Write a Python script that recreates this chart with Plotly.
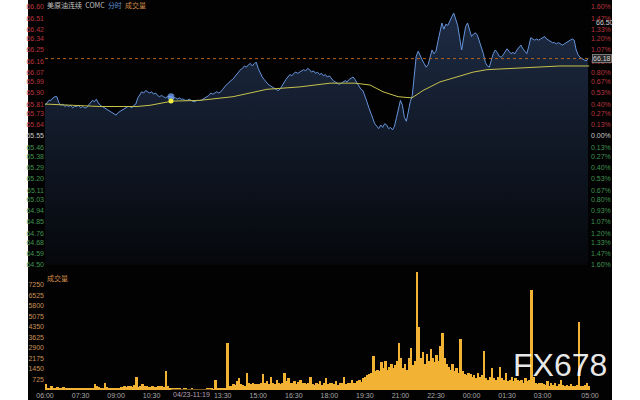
import plotly.graph_objects as go

# ---------------- data ----------------
# price every 5 minutes starting 06:00 (minute 0) to 04:55 next day
price = [
    65.80, 65.82, 65.84, 65.84, 65.86, 65.87, 65.87, 65.82, 65.80, 65.81, 65.79, 65.80,
    65.79, 65.80, 65.78, 65.79, 65.79, 65.80, 65.78, 65.79, 65.78, 65.78, 65.80, 65.82,
    65.84, 65.83, 65.85, 65.82, 65.80, 65.79, 65.78, 65.77, 65.76, 65.75, 65.74, 65.73,
    65.72, 65.74, 65.75, 65.76, 65.77, 65.78, 65.79, 65.79, 65.78, 65.80, 65.81, 65.86,
    65.89, 65.91, 65.90, 65.92, 65.91, 65.90, 65.91, 65.89, 65.90, 65.88, 65.87, 65.88,
    65.87, 65.86, 65.87, 65.87, 65.87, 65.86, 65.86, 65.85, 65.86, 65.85, 65.85, 65.84,
    65.84, 65.85, 65.84, 65.83, 65.83, 65.84, 65.84, 65.84, 65.85, 65.86, 65.87, 65.88,
    65.90, 65.89, 65.90, 65.91, 65.90, 65.91, 65.93, 65.95, 65.97, 65.98, 66.00, 66.01,
    66.03, 66.05, 66.07, 66.09, 66.10, 66.12, 66.11, 66.13, 66.14, 66.12, 66.14, 66.15,
    66.10, 66.06, 66.03, 66.01, 65.99, 65.97, 65.96, 65.95, 65.94, 65.93, 65.92, 65.93,
    65.96, 65.99, 66.01, 66.03, 66.05, 66.04, 66.06, 66.07, 66.06, 66.07, 66.08, 66.09,
    66.08, 66.10, 66.09, 66.07, 66.08, 66.06, 66.07, 66.05, 66.06, 66.04, 66.05, 66.03,
    66.04, 66.02, 66.00, 65.99, 65.98, 65.97, 65.98, 65.99, 66.00, 65.99, 66.01, 66.02,
    66.03, 66.01, 65.98, 65.95, 65.93, 65.92, 65.88, 65.83, 65.78, 65.73, 65.68, 65.65,
    65.63, 65.61, 65.64, 65.62, 65.65, 65.64, 65.61, 65.62, 65.60, 65.63, 65.70, 65.78,
    65.84, 65.80, 65.70, 65.67, 65.76, 65.83, 65.88, 66.05, 66.20, 66.24, 66.20, 66.17,
    66.14, 66.11, 66.13, 66.20, 66.25, 66.22, 66.24, 66.32, 66.40, 66.47, 66.42, 66.46,
    66.45, 66.49, 66.52, 66.55, 66.50, 66.45, 66.35, 66.25, 66.35, 66.44, 66.47, 66.42,
    66.36, 66.38, 66.39, 66.37, 66.32, 66.29, 66.22, 66.15, 66.12, 66.11, 66.16, 66.22,
    66.25, 66.23, 66.20, 66.19, 66.21, 66.24, 66.26, 66.24, 66.22, 66.23, 66.22, 66.25,
    66.27, 66.29, 66.26, 66.24, 66.22, 66.28, 66.35, 66.34, 66.33, 66.34, 66.33, 66.34,
    66.35, 66.36, 66.34, 66.33, 66.32, 66.31, 66.31, 66.30, 66.31, 66.30, 66.29, 66.30,
    66.31, 66.32, 66.33, 66.34, 66.33, 66.25, 66.21, 66.19, 66.18, 66.17, 66.16, 66.18,
]
price_minutes = [i * 5 for i in range(len(price))]

avg_minutes = [0, 63, 139, 233, 266, 322, 392, 476, 562, 646, 722, 785, 823, 856,
               894, 929, 957, 1000, 1043, 1084, 1119, 1177, 1228, 1304, 1378]
avg_values = [65.81, 65.80, 65.79, 65.79, 65.80, 65.834, 65.84, 65.87, 65.93, 65.95,
              65.98, 65.98, 65.965, 65.91, 65.87, 65.86, 65.92, 65.99, 66.03, 66.07,
              66.09, 66.10, 66.11, 66.12, 66.12]

# volume per 5-minute bar
volume = [
    420, 150, 120, 260, 100, 90, 180, 110, 90, 230, 80, 100,
    120, 90, 150, 80, 100, 70, 130, 90, 80, 110, 140, 90,
    100, 380, 260, 200, 120, 160, 450, 180, 130, 100, 150, 120,
    140, 120, 200, 180, 250, 220, 300, 260, 180, 320, 860, 240,
    300, 420, 280, 250, 200, 230, 260, 180, 220, 250, 300, 260,
    230, 1340, 280, 150, 120, 100, 80, 90, 70, 60, 80, 70,
    60, 50, 70, 40, 60, 50, 40, 50, 60, 50, 90, 70,
    80, 60, 700, 120, 100, 90, 150, 80, 3260, 300, 250, 400,
    350, 600, 800, 400, 350, 300, 1150, 450, 380, 500, 420, 380,
    420, 500, 1100, 450, 600, 400, 900, 500, 380, 700, 450, 400,
    500, 1200, 650, 800, 500, 450, 600, 400, 550, 700, 450, 500,
    400, 450, 900, 400, 350, 500, 400, 600, 350, 450, 800, 400,
    450, 500, 400, 600, 350, 450, 500, 900, 400, 500, 450, 700,
    500, 450, 600, 700, 550, 800, 900, 1000, 1100, 1200, 2370, 1300,
    1400, 1300, 1900, 1500, 2000, 1400, 1600, 1800, 1500, 1700, 2000, 3200,
    2200, 1500, 1800, 1400, 2200, 2900, 1700, 2000, 8100, 4300, 2200, 2600,
    1800, 2500, 2000, 2800, 2200, 1900, 2400, 2000, 3000, 3900, 2200, 1800,
    1600, 1400, 1800, 1300, 1500, 1200, 3500, 1300, 1100, 1000, 1200, 1100,
    900, 1000, 800, 1200, 900, 1000, 2700, 800, 700, 900, 1500, 800,
    700, 900, 1600, 800, 700, 1200, 600, 700, 900, 600, 800, 700,
    600, 700, 500, 800, 600, 700, 6840, 900, 500, 400, 500, 450,
    400, 350, 600, 300, 450, 350, 500, 300, 400, 700, 350, 300,
    350, 300, 400, 250, 300, 350, 4640, 300, 250, 350, 500, 300,
]
volume_minutes = [i * 5 + 2.5 for i in range(len(volume))]

price_ticks = ["66.60", "66.51", "66.42", "66.34", "66.25", "66.16", "66.07", "65.99",
               "65.90", "65.81", "65.73", "65.64", "65.55", "65.46", "65.38", "65.29",
               "65.20", "65.11", "65.03", "64.94", "64.85", "64.76", "64.68", "64.59", "64.50"]
pct_ticks = ["1.60%", "1.47%", "1.33%", "1.20%", "1.07%", "0.93%", "0.80%", "0.67%",
             "0.53%", "0.40%", "0.27%", "0.13%", "0.00%", "0.13%", "0.27%", "0.40%",
             "0.53%", "0.67%", "0.80%", "0.93%", "1.07%", "1.20%", "1.33%", "1.47%", "1.60%"]
vol_ticks = [725, 1450, 2175, 2900, 3625, 4350, 5075, 5800, 6525, 7250]
time_tick_minutes = [0, 90, 180, 270, 450, 540, 630, 720, 810, 900, 990, 1080, 1170, 1260, 1380]
time_tick_labels = ["06:00", "07:30", "09:00", "10:30", "13:30", "15:00", "16:30", "18:00",
                    "19:30", "21:00", "22:30", "00:00", "01:30", "03:00", "05:00"]

prev_close = 65.55
last_price = 66.18
cross_minute = 319
cross_price = 65.87
cross_avg = 65.834

# ---------------- styling ----------------
BG = "#020202"
RED = "#b8343f"
GREEN = "#3f9350"
ZERO = "#c8c8c8"
VOLC = "#c99055"
TIMEC = "#a8a8a8"
FONT = "Liberation Sans, Noto Sans CJK SC, sans-serif"


def colored(labels, vals):
    out = []
    for lab, v in zip(labels, vals):
        c = RED if v > prev_close + 1e-9 else (GREEN if v < prev_close - 1e-9 else ZERO)
        out.append(f'<span style="color:{c}">{lab}</span>')
    return out


price_vals = [float(t) for t in price_ticks]

fig = go.Figure()

fig.add_trace(go.Scatter(
    x=price_minutes, y=price, xaxis="x2", yaxis="y2", mode="lines",
    line=dict(color="#6594dc", width=1), fill="tozeroy",
    fillgradient=dict(type="vertical", start=64.50, stop=66.60,
                      colorscale=[[0, "#05070b"], [1, "#1e2c45"]]),
    hoverinfo="skip", showlegend=False))
fig.add_trace(go.Scatter(
    x=avg_minutes, y=avg_values, xaxis="x2", yaxis="y2", mode="lines",
    line=dict(color="#c6c24c", width=1), hoverinfo="skip", showlegend=False))
fig.add_trace(go.Scatter(
    x=[cross_minute], y=[cross_price], xaxis="x2", yaxis="y2", mode="markers",
    marker=dict(size=7, color="rgba(120,170,255,0.75)"), showlegend=False))
fig.add_trace(go.Scatter(
    x=[cross_minute], y=[cross_avg], xaxis="x2", yaxis="y2", mode="markers",
    marker=dict(size=5, color="#f2f040"), showlegend=False))
fig.add_trace(go.Scatter(
    x=[0], y=[prev_close], xaxis="x2", yaxis="y3", mode="markers",
    marker=dict(size=1, color="rgba(0,0,0,0)"), showlegend=False, hoverinfo="skip"))
fig.add_trace(go.Bar(
    x=volume_minutes, y=volume, xaxis="x", yaxis="y", width=5,
    marker=dict(color="#f2b233", line=dict(width=0)), showlegend=False, hoverinfo="skip"))

# layout geometry: plot area x 45..590, y 2..390
L, R, T, B = 45, 50, 2, 10
H = 400 - T - B


def py(pix):  # pixel y -> paper fraction
    return (400 - B - pix) / H


fig.update_layout(
    width=640, height=400,
    margin=dict(l=L, r=R, t=T, b=B, autoexpand=False),
    paper_bgcolor="white", plot_bgcolor=BG,
    bargap=0,
    font=dict(family=FONT, size=7, color=TIMEC),
    xaxis=dict(domain=[0, 1], range=[0, 1380], anchor="y",
               tickvals=time_tick_minutes, ticktext=time_tick_labels,
               showgrid=False, zeroline=False, showline=False, ticks="",
               tickfont=dict(size=7, color=TIMEC)),
    xaxis2=dict(domain=[0, 1], range=[0, 1380], anchor="y2", matches="x",
                showticklabels=False, showgrid=False, zeroline=False, ticks=""),
    yaxis=dict(domain=[0, py(270)], range=[0, (390 - 270) / 10.55 * 725], anchor="x",
               tickvals=vol_ticks, ticktext=[str(v) for v in vol_ticks],
               showgrid=False, zeroline=False, ticks="",
               tickfont=dict(size=7, color=VOLC)),
    yaxis2=dict(domain=[py(265), py(7)], range=[64.50, 66.60], anchor="x2",
                tickvals=price_vals, ticktext=colored(price_ticks, price_vals),
                showgrid=False, zeroline=False, ticks="", tickfont=dict(size=7)),
    yaxis3=dict(overlaying="y2", side="right", range=[64.50, 66.60], anchor="x2",
                tickvals=price_vals, ticktext=colored(pct_ticks, price_vals),
                showgrid=False, zeroline=False, ticks="", tickfont=dict(size=7)),
)

# dark panel background
fig.add_shape(type="rect", xref="paper", yref="paper",
              x0=(28 - L) / 545, x1=(612 - L) / 545, y0=-0.05, y1=1.05,
              fillcolor=BG, line=dict(width=0), layer="below")
# last price dashed line
fig.add_shape(type="line", xref="x2", yref="y2", x0=0, x1=1380, y0=last_price, y1=last_price,
              line=dict(color="#b4621f", width=1, dash="dot"))

fig.add_annotation(xref="paper", yref="y2", x=1.0, y=last_price, xanchor="left",
                   text="66.18", showarrow=False, font=dict(size=7, color="#d0d0d0"),
                   bgcolor="#2a2a2a", bordercolor="#777777", borderwidth=1, borderpad=0, xshift=2)
fig.add_annotation(xref="paper", yref="y2", x=1.0, y=66.47, xanchor="left",
                   text="66.50", showarrow=False, font=dict(size=7, color="#d0d0d0"),
                   xshift=4)

# header text
fig.add_annotation(xref="paper", yref="paper", x=0, y=py(5), xanchor="left", yanchor="middle",
                   showarrow=False,
                   text='<span style="color:#c0c0c0">美原油连续  COMC</span>  '
                        '<span style="color:#5f8fd8">分时</span>  '
                        '<span style="color:#d08a4a">成交量</span>',
                   font=dict(size=7, family="Noto Sans CJK SC"))
fig.add_annotation(xref="paper", yref="paper", x=0, y=py(278), xanchor="left", yanchor="middle",
                   showarrow=False, text="成交量",
                   font=dict(size=7, color="#d08a4a", family="Noto Sans CJK SC"))
# crosshair time label
fig.add_annotation(xref="x", yref="paper", x=cross_minute, y=py(394), xanchor="left",
                   yanchor="middle", showarrow=False, text="04/23-11:19",
                   font=dict(size=7, color="#b8a0b8"), bgcolor=BG)
# watermark
fig.add_annotation(xref="paper", yref="paper", x=(560 - L) / 545, y=py(365),
                   xanchor="center", yanchor="middle", showarrow=False, text="FX678",
                   font=dict(size=32, color="rgba(255,255,255,0.92)", family="Liberation Sans"))

fig.write_html("out.html", config={"displayModeBar": False},
               post_script="document.body.style.margin='0';document.body.style.overflow='hidden';")
